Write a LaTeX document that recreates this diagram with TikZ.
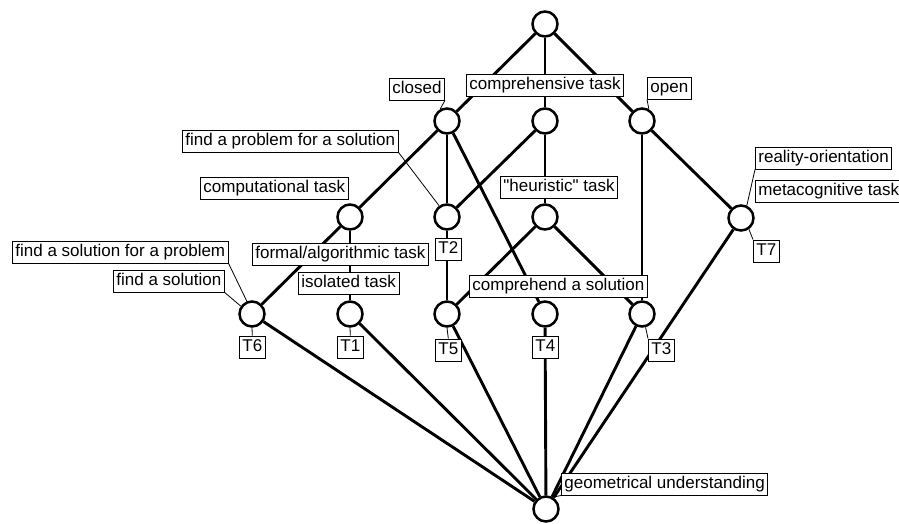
\documentclass[tikz,border=0pt]{standalone}
\usepackage{fontspec}
\setmainfont{Liberation Sans}[Ligatures=TeXOff]
\begin{document}
\begin{tikzpicture}[x=1pt,y=-1pt,
  vtx/.style={circle,draw,line width=2.5pt,minimum size=25pt,inner sep=0pt,fill=white},
  edge/.style={line width=2.9pt},
  lbl/.style={draw,line width=0.8pt,fill=white,inner xsep=3pt,inner ysep=3pt,
    text height=12.4pt,text depth=3.8pt,font=\fontsize{17}{20}\selectfont,anchor=west},
  lead/.style={line width=0.8pt}]
\useasboundingbox (0,0) rectangle (899,523);
% vertices
\node[vtx] (top) at (545,24) {};
\node[vtx] (closed) at (447,121) {};
\node[vtx] (mid) at (545,121) {};
\node[vtx] (open) at (642,121) {};
\node[vtx] (comp) at (350,217) {};
\node[vtx] (t2) at (447,217) {};
\node[vtx] (heur) at (545,217) {};
\node[vtx] (t7) at (741,218) {};
\node[vtx] (t6) at (252,314) {};
\node[vtx] (t1) at (350,314) {};
\node[vtx] (t5) at (447,314) {};
\node[vtx] (t4) at (545,314) {};
\node[vtx] (t3) at (642,314) {};
\node[vtx] (bot) at (546,509) {};
% edges
\draw[edge] (top) -- (closed);
\draw[edge] (top) -- (mid);
\draw[edge] (top) -- (open);
\draw[edge] (closed) -- (comp);
\draw[edge] (closed) -- (t2);
\draw[edge] (closed) -- (t4);
\draw[edge] (mid) -- (t2);
\draw[edge] (mid) -- (heur);
\draw[edge] (open) -- (t3);
\draw[edge] (open) -- (t7);
\draw[edge] (comp) -- (t6);
\draw[edge] (comp) -- (t1);
\draw[edge] (t2) -- (t5);
\draw[edge] (heur) -- (t5);
\draw[edge] (heur) -- (t3);
\draw[edge] (t6) -- (bot);
\draw[edge] (t1) -- (bot);
\draw[edge] (t5) -- (bot);
\draw[edge] (t4) -- (bot);
\draw[edge] (t3) -- (bot);
\draw[edge] (t7) -- (bot);
% labels
\node[lbl] (lclosed) at (389,89) {closed};
\node[lbl] (lcomp) at (466,85) {comprehensive task};
\node[lbl] (lopen) at (647,88) {open};
\node[lbl] (lfp) at (182,141) {find a problem for a solution};
\node[lbl] (lct) at (200,188) {computational task};
\node[lbl] (lfsp) at (12,252) {find a solution for a problem};
\node[lbl] (lfs) at (113,281) {find a solution};
\node[lbl] (lfa) at (252,254) {formal/algorithmic task};
\node[lbl] (liso) at (298,283) {isolated task};
\node[lbl] (lt2) at (435,249) {T2};
\node[lbl] (lheur) at (500,187) {"heuristic" task};
\node[lbl] (lreal) at (755,158) {reality-orientation};
\node[lbl] (lmeta) at (755,191) {metacognitive task};
\node[lbl] (lt7) at (753,251) {T7};
\node[lbl] (lcs) at (469,286) {comprehend a solution};
\node[lbl] (lt6) at (239,347) {T6};
\node[lbl] (lt1) at (337,347) {T1};
\node[lbl] (lt5) at (435,350) {T5};
\node[lbl] (lt4) at (532,347) {T4};
\node[lbl] (lt3) at (648,350) {T3};
\node[lbl] (lgu) at (561,484) {geometrical understanding};
% leaders
\draw[lead] (lclosed.south east) -- (closed.120);
\draw[lead] (lopen.south west) -- (open.60);
\draw[lead] (lfp.south east) -- (t2.125);
\draw[lead] (lfsp.south east) -- (t6.112);
\draw[lead] (lfs.south east) -- (t6.145);
\draw[lead] (lreal.south west) -- (t7.65);
\draw[lead] (lt7.north west) -- (t7.-55);
\draw[lead] (lt3.north west) -- (t3.-75);
\draw[lead] (t6.south) -- (lt6.north);
\draw[lead] (t1.south) -- (lt1.north);
\draw[lead] (t5.south) -- (lt5.north);
\draw[lead] (lgu.south west) -- (bot.60);
\end{tikzpicture}
\end{document}
